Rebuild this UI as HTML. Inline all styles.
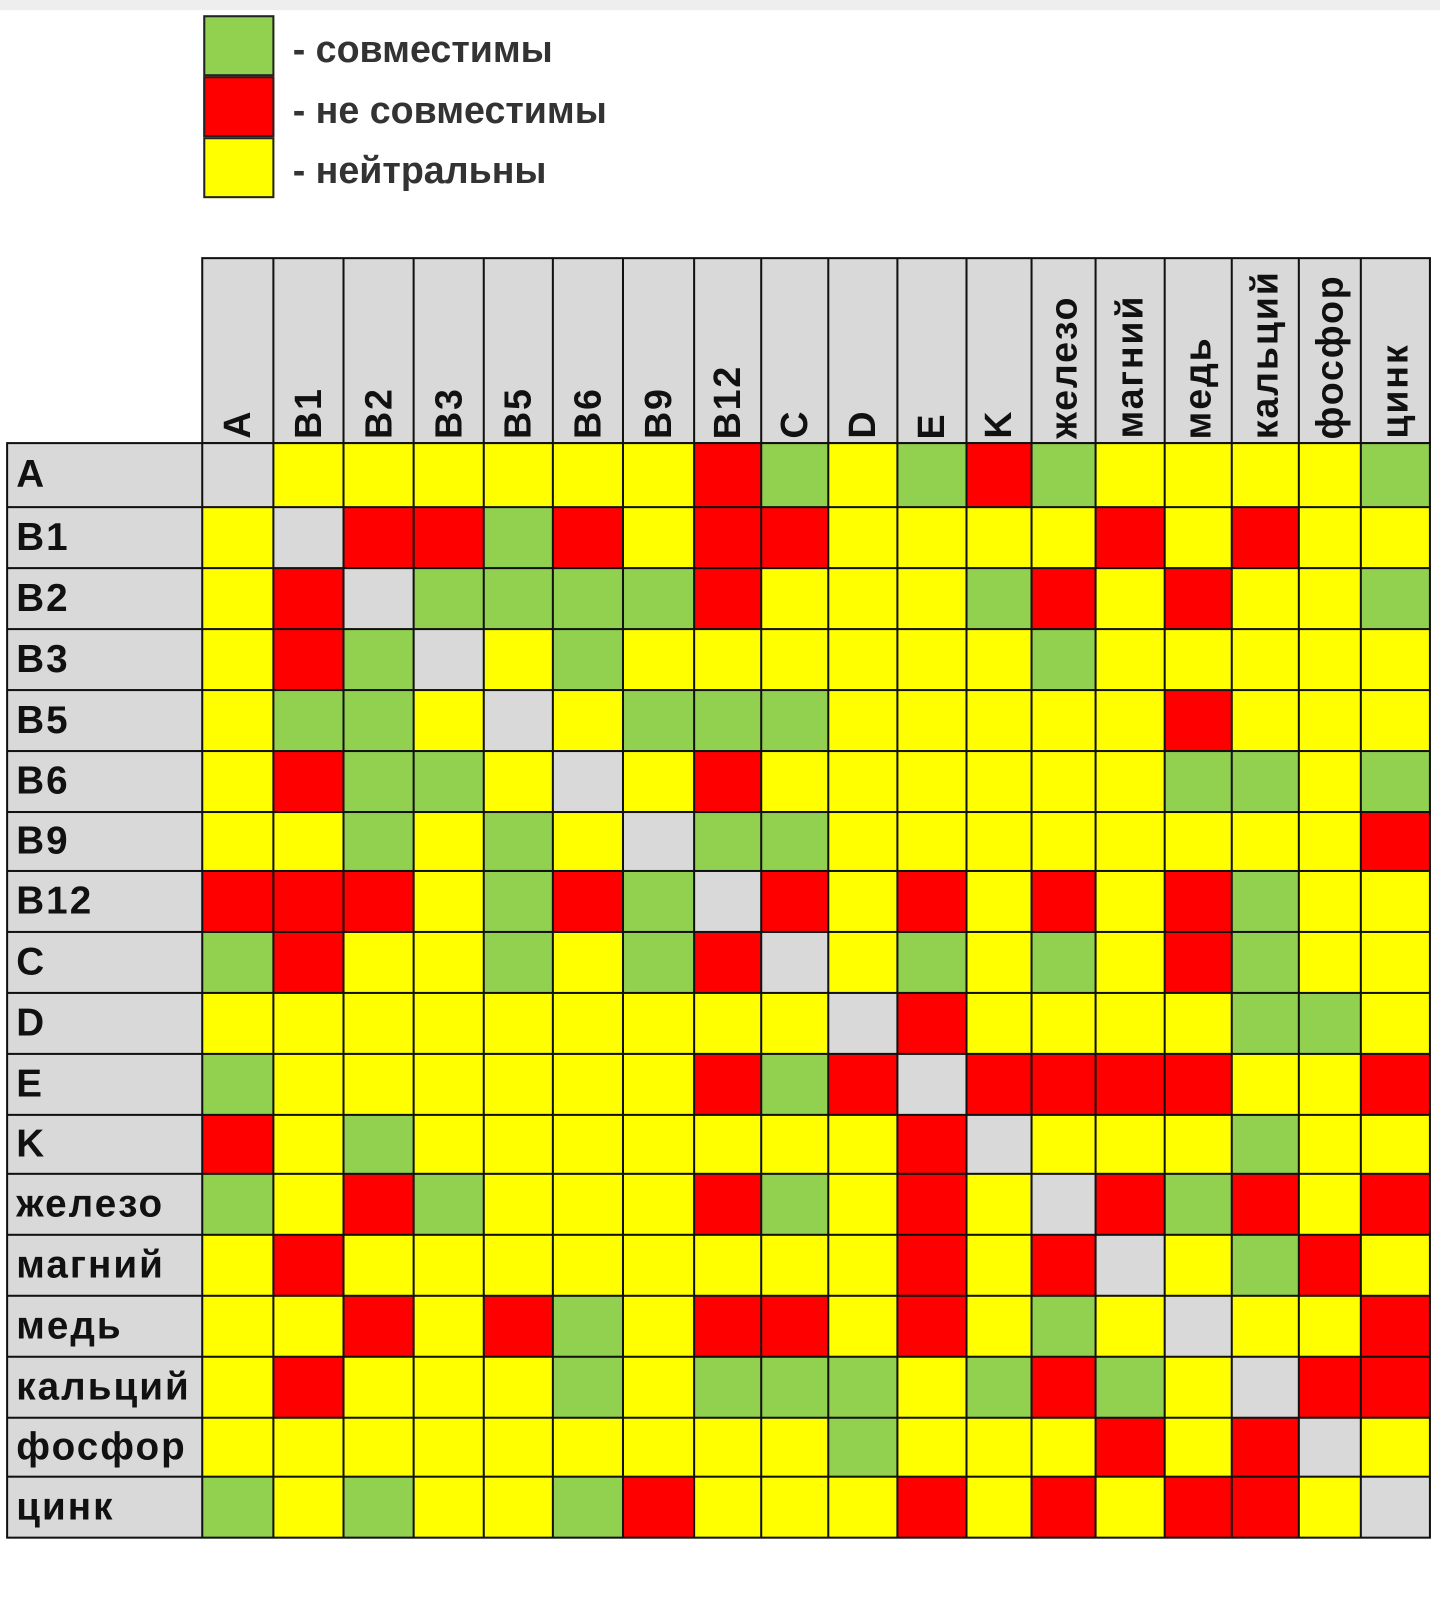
<!DOCTYPE html>
<html><head><meta charset="utf-8"><style>
body{margin:0;width:1440px;height:1594px;background:#fff;position:relative;overflow:hidden;font-family:"Liberation Sans","DejaVu Sans",sans-serif}
#w{position:absolute;left:0;top:0;width:1440px;height:1594px;transform:scale(1.0163);transform-origin:0 0}
.top{position:absolute;left:0;top:0;width:1440px;height:10px;background:#eee}
.lg{position:absolute;left:200px;width:66px;height:56px;border:2px solid #222}
.lt{position:absolute;left:288px;font-size:37px;font-weight:bold;color:#333}
.grid{position:absolute;display:grid;gap:2px;padding:2px;background:#111}
.hd{left:198px;top:253px;grid-template-columns:68px 67px 67px 67px 66px 67px 68px 64px 64px 66px 66px 62px 61px 66px 64px 64px 59px 66px;grid-template-rows:180px}
.bd{left:6px;top:435px;grid-template-columns:190px 68px 67px 67px 67px 66px 67px 68px 64px 64px 66px 66px 62px 61px 66px 64px 64px 59px 66px;grid-template-rows:61px 58px 58px 58px 58px 58px 56px 58px 58px 58px 58px 56px 58px 58px 58px 58px 56px 58px}
.grid div,.grid i{background:#d9d9d9}
.hd div{display:flex;align-items:flex-end;justify-content:center;padding-bottom:3px;box-sizing:border-box}
.hd span{writing-mode:vertical-rl;transform:rotate(180deg);font-weight:bold;font-size:37px;letter-spacing:1.8px;color:#111}
.bd div{font-weight:bold;font-size:38px;letter-spacing:2px;color:#111;display:flex;align-items:center;padding-left:8px;white-space:nowrap;overflow:hidden}
.grid i.g{background:#92d050}.grid i.r{background:#ff0000}.grid i.y{background:#ffff00}
</style></head><body><div id="w">
<div class="top"></div>
<div class="lg" style="top:15px;background:#92d050"></div>
<div class="lg" style="top:75px;background:#ff0000"></div>
<div class="lg" style="top:135px;background:#ffff00"></div>
<div class="lt" style="top:28px">- совместимы</div>
<div class="lt" style="top:88px">- не совместимы</div>
<div class="lt" style="top:147px">- нейтральны</div>
<div class="grid hd">
<div><span>A</span></div><div><span>B1</span></div><div><span>B2</span></div><div><span>B3</span></div><div><span>B5</span></div><div><span>B6</span></div><div><span>B9</span></div><div><span>B12</span></div><div><span>C</span></div><div><span>D</span></div><div><span>E</span></div><div><span>K</span></div><div><span>железо</span></div><div><span>магний</span></div><div><span>медь</span></div><div><span>кальций</span></div><div><span>фосфор</span></div><div><span>цинк</span></div>
</div>
<div class="grid bd">
<div>A</div><i></i><i class="y"></i><i class="y"></i><i class="y"></i><i class="y"></i><i class="y"></i><i class="y"></i><i class="r"></i><i class="g"></i><i class="y"></i><i class="g"></i><i class="r"></i><i class="g"></i><i class="y"></i><i class="y"></i><i class="y"></i><i class="y"></i><i class="g"></i>
<div>B1</div><i class="y"></i><i></i><i class="r"></i><i class="r"></i><i class="g"></i><i class="r"></i><i class="y"></i><i class="r"></i><i class="r"></i><i class="y"></i><i class="y"></i><i class="y"></i><i class="y"></i><i class="r"></i><i class="y"></i><i class="r"></i><i class="y"></i><i class="y"></i>
<div>B2</div><i class="y"></i><i class="r"></i><i></i><i class="g"></i><i class="g"></i><i class="g"></i><i class="g"></i><i class="r"></i><i class="y"></i><i class="y"></i><i class="y"></i><i class="g"></i><i class="r"></i><i class="y"></i><i class="r"></i><i class="y"></i><i class="y"></i><i class="g"></i>
<div>B3</div><i class="y"></i><i class="r"></i><i class="g"></i><i></i><i class="y"></i><i class="g"></i><i class="y"></i><i class="y"></i><i class="y"></i><i class="y"></i><i class="y"></i><i class="y"></i><i class="g"></i><i class="y"></i><i class="y"></i><i class="y"></i><i class="y"></i><i class="y"></i>
<div>B5</div><i class="y"></i><i class="g"></i><i class="g"></i><i class="y"></i><i></i><i class="y"></i><i class="g"></i><i class="g"></i><i class="g"></i><i class="y"></i><i class="y"></i><i class="y"></i><i class="y"></i><i class="y"></i><i class="r"></i><i class="y"></i><i class="y"></i><i class="y"></i>
<div>B6</div><i class="y"></i><i class="r"></i><i class="g"></i><i class="g"></i><i class="y"></i><i></i><i class="y"></i><i class="r"></i><i class="y"></i><i class="y"></i><i class="y"></i><i class="y"></i><i class="y"></i><i class="y"></i><i class="g"></i><i class="g"></i><i class="y"></i><i class="g"></i>
<div>B9</div><i class="y"></i><i class="y"></i><i class="g"></i><i class="y"></i><i class="g"></i><i class="y"></i><i></i><i class="g"></i><i class="g"></i><i class="y"></i><i class="y"></i><i class="y"></i><i class="y"></i><i class="y"></i><i class="y"></i><i class="y"></i><i class="y"></i><i class="r"></i>
<div>B12</div><i class="r"></i><i class="r"></i><i class="r"></i><i class="y"></i><i class="g"></i><i class="r"></i><i class="g"></i><i></i><i class="r"></i><i class="y"></i><i class="r"></i><i class="y"></i><i class="r"></i><i class="y"></i><i class="r"></i><i class="g"></i><i class="y"></i><i class="y"></i>
<div>C</div><i class="g"></i><i class="r"></i><i class="y"></i><i class="y"></i><i class="g"></i><i class="y"></i><i class="g"></i><i class="r"></i><i></i><i class="y"></i><i class="g"></i><i class="y"></i><i class="g"></i><i class="y"></i><i class="r"></i><i class="g"></i><i class="y"></i><i class="y"></i>
<div>D</div><i class="y"></i><i class="y"></i><i class="y"></i><i class="y"></i><i class="y"></i><i class="y"></i><i class="y"></i><i class="y"></i><i class="y"></i><i></i><i class="r"></i><i class="y"></i><i class="y"></i><i class="y"></i><i class="y"></i><i class="g"></i><i class="g"></i><i class="y"></i>
<div>E</div><i class="g"></i><i class="y"></i><i class="y"></i><i class="y"></i><i class="y"></i><i class="y"></i><i class="y"></i><i class="r"></i><i class="g"></i><i class="r"></i><i></i><i class="r"></i><i class="r"></i><i class="r"></i><i class="r"></i><i class="y"></i><i class="y"></i><i class="r"></i>
<div>K</div><i class="r"></i><i class="y"></i><i class="g"></i><i class="y"></i><i class="y"></i><i class="y"></i><i class="y"></i><i class="y"></i><i class="y"></i><i class="y"></i><i class="r"></i><i></i><i class="y"></i><i class="y"></i><i class="y"></i><i class="g"></i><i class="y"></i><i class="y"></i>
<div>железо</div><i class="g"></i><i class="y"></i><i class="r"></i><i class="g"></i><i class="y"></i><i class="y"></i><i class="y"></i><i class="r"></i><i class="g"></i><i class="y"></i><i class="r"></i><i class="y"></i><i></i><i class="r"></i><i class="g"></i><i class="r"></i><i class="y"></i><i class="r"></i>
<div>магний</div><i class="y"></i><i class="r"></i><i class="y"></i><i class="y"></i><i class="y"></i><i class="y"></i><i class="y"></i><i class="y"></i><i class="y"></i><i class="y"></i><i class="r"></i><i class="y"></i><i class="r"></i><i></i><i class="y"></i><i class="g"></i><i class="r"></i><i class="y"></i>
<div>медь</div><i class="y"></i><i class="y"></i><i class="r"></i><i class="y"></i><i class="r"></i><i class="g"></i><i class="y"></i><i class="r"></i><i class="r"></i><i class="y"></i><i class="r"></i><i class="y"></i><i class="g"></i><i class="y"></i><i></i><i class="y"></i><i class="y"></i><i class="r"></i>
<div>кальций</div><i class="y"></i><i class="r"></i><i class="y"></i><i class="y"></i><i class="y"></i><i class="g"></i><i class="y"></i><i class="g"></i><i class="g"></i><i class="g"></i><i class="y"></i><i class="g"></i><i class="r"></i><i class="g"></i><i class="y"></i><i></i><i class="r"></i><i class="r"></i>
<div>фосфор</div><i class="y"></i><i class="y"></i><i class="y"></i><i class="y"></i><i class="y"></i><i class="y"></i><i class="y"></i><i class="y"></i><i class="y"></i><i class="g"></i><i class="y"></i><i class="y"></i><i class="y"></i><i class="r"></i><i class="y"></i><i class="r"></i><i></i><i class="y"></i>
<div>цинк</div><i class="g"></i><i class="y"></i><i class="g"></i><i class="y"></i><i class="y"></i><i class="g"></i><i class="r"></i><i class="y"></i><i class="y"></i><i class="y"></i><i class="r"></i><i class="y"></i><i class="r"></i><i class="y"></i><i class="r"></i><i class="r"></i><i class="y"></i><i></i>
</div>
</div></body></html>
